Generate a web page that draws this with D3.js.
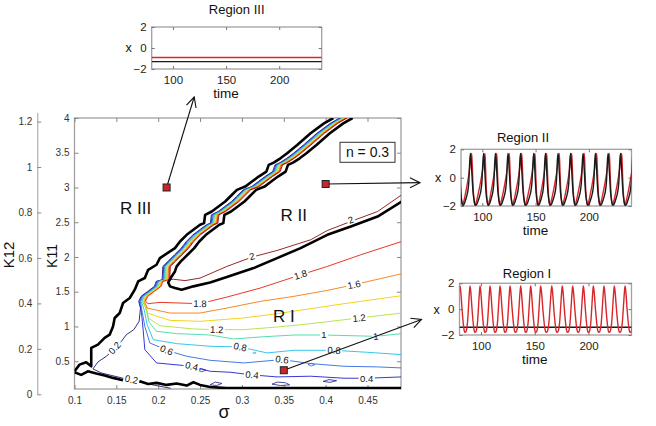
<!DOCTYPE html>
<html><head><meta charset="utf-8">
<script src="https://cdn.jsdelivr.net/npm/d3@7"></script>
<style>
body{margin:0;background:#fff}
svg{display:block}
text{font-family:"Liberation Sans",Arial,Helvetica,sans-serif}
</style>
</head><body>
<svg id="c" width="656" height="426"></svg>
<script>
// ---------------- DATA ----------------
const sigmaTicks = [0.1, 0.15, 0.2, 0.25, 0.3, 0.35, 0.4, 0.45];
const k11Ticks = [0.5, 1, 1.5, 2, 2.5, 3, 3.5, 4];
const k12Ticks = [0, 0.2, 0.4, 0.6, 0.8, 1, 1.2];
const timeTicks = [100, 150, 200];
const xTicks = [-2, 0, 2];

const levels = [0.2, 0.4, 0.6, 0.8, 1.0, 1.2, 1.4, 1.6, 1.8, 2.0];
// sigma offset of each level inside the narrow diagonal band
const bandShift = [-0.0045, -0.0035, -0.0025, -0.0015, -0.0005, 0.0005, 0.0015, 0.0025, 0.0035, 0.0045];
// K11 where each level leaves the band
const bandLeave = [1.36, 1.36, 1.36, 1.36, 1.36, 1.36, 1.36, 1.36, 1.36, 1.66];

// centre of the diagonal band (sigma, K11), top -> bottom
const bandCenter = [[0.4212,4.0],[0.410,3.923],[0.394,3.780],[0.378,3.612],[0.366,3.492],[0.358,3.420],
 [0.350,3.358],[0.344,3.325],[0.3412,3.229],[0.332,3.157],[0.324,3.085],[0.316,3.013],[0.306,2.966],
 [0.298,2.870],[0.292,2.798],[0.284,2.726],[0.276,2.654],[0.268,2.606],[0.2668,2.487],[0.262,2.463],
 [0.254,2.391],[0.246,2.319],[0.238,2.223],[0.232,2.127],[0.224,2.032],[0.216,1.936],[0.210,1.864],
 [0.2092,1.672],[0.202,1.648],[0.200,1.577],[0.192,1.505],[0.184,1.433],[0.1812,1.361]];

const tail02 = [[0.1788,1.265],[0.1772,1.074],[0.1708,0.954],[0.162,0.882],[0.156,0.786],[0.148,0.676],[0.138,0.571],[0.128,0.489],[0.122,0.389],[0.132,0.331],[0.148,0.284],[0.168,0.226],[0.186,0.178],[0.202,0.140],[0.215,0.11]];
const tail04 = [[0.180,1.2],[0.182,0.954],[0.184,0.667],[0.198,0.475],[0.240,0.427],[0.262,0.355],[0.286,0.341],[0.312,0.303],[0.342,0.274],[0.382,0.284],[0.422,0.255],[0.4492,0.255],[0.4908,0.274]];
const tail06 = [[0.181,1.2],[0.184,1.002],[0.190,0.762],[0.214,0.643],[0.234,0.571],[0.262,0.513],[0.302,0.475],[0.348,0.523],[0.382,0.466],[0.422,0.427],[0.462,0.418],[0.4908,0.403]];
const tail08 = [[0.183,1.25],[0.1868,1.026],[0.194,0.810],[0.222,0.753],[0.262,0.715],[0.298,0.705],[0.330,0.619],[0.362,0.657],[0.410,0.657],[0.450,0.628],[0.4908,0.595]];
const tail10 = [[0.185,1.28],[0.1892,1.059],[0.198,0.930],[0.222,0.897],[0.262,0.877],[0.290,0.820],[0.322,0.849],[0.362,0.877],[0.398,0.877],[0.460,0.858],[0.4908,0.897]];
const tail12 = [[0.186,1.3],[0.188,1.122],[0.202,1.011],[0.242,0.964],[0.270,0.954],[0.302,0.954],[0.342,0.992],[0.382,1.040],[0.440,1.122],[0.4908,1.193]];
const tail14 = [[0.1868,1.193],[0.214,1.088],[0.250,1.074],[0.302,1.122],[0.342,1.184],[0.382,1.256],[0.422,1.328],[0.4908,1.443]];
const tail16 = [[0.1868,1.265],[0.214,1.193],[0.250,1.193],[0.282,1.265],[0.322,1.361],[0.362,1.433],[0.402,1.519],[0.434,1.601],[0.4908,1.759]];
const tail18 = [[0.188,1.328],[0.202,1.347],[0.226,1.337],[0.250,1.328],[0.282,1.423],[0.322,1.553],[0.362,1.711],[0.402,1.864],[0.442,2.032],[0.4908,2.223]];
const tail20 = [[0.218,1.68],[0.232,1.66],[0.250,1.696],[0.282,1.864],[0.312,1.998],[0.342,2.094],[0.382,2.247],[0.402,2.381],[0.430,2.511],[0.462,2.654],[0.4908,2.894]];

// small closed contour islands [level, points]
const islandLevels = [0.4, 0.6, 0.2, 0.8, 0.2, 0.2];
const islandPts = [
 [[0.247,0.37],[0.252,0.39],[0.257,0.37],[0.252,0.35],[0.247,0.37]],
 [[0.379,0.45],[0.383,0.47],[0.387,0.45],[0.383,0.43],[0.379,0.45]],
 [[0.262,0.16],[0.268,0.20],[0.276,0.18],[0.270,0.15],[0.262,0.16]],
 [[0.313,0.62],[0.315,0.63],[0.317,0.62],[0.315,0.61],[0.313,0.62]],
 [[0.336,0.17],[0.342,0.20],[0.352,0.19],[0.357,0.16],[0.346,0.15],[0.336,0.17]],
 [[0.397,0.21],[0.404,0.235],[0.413,0.22],[0.405,0.195],[0.397,0.21]]
];

// thick black boundaries
const outerLow = [[0.100,0.355],[0.106,0.451],[0.114,0.484],[0.120,0.427],[0.120,0.691],[0.128,0.738],[0.136,0.835],[0.142,0.882],[0.146,1.001],[0.148,1.122],[0.154,1.194],[0.158,1.338],[0.166,1.409],[0.172,1.529],[0.176,1.648],[0.184,1.697],[0.188,1.816],[0.198,1.888],[0.202,1.984]];
const outerShift = -0.012;
const innerShift = 0.011;
const innerLow = [[0.222,1.864],[0.220,1.792],[0.216,1.720],[0.212,1.634],[0.214,1.577],[0.220,1.553],[0.228,1.529],[0.242,1.577],[0.262,1.634],[0.282,1.711],[0.314,1.840],[0.342,1.984],[0.370,2.127],[0.402,2.319],[0.430,2.439],[0.462,2.582],[0.4908,2.798]];
const bottomBoundary = [[0.100,0.341],[0.108,0.303],[0.116,0.355],[0.126,0.322],[0.136,0.293],[0.146,0.260],[0.158,0.226],[0.168,0.197],[0.178,0.212],[0.188,0.173],[0.198,0.188],[0.210,0.159],[0.222,0.178],[0.234,0.149],[0.242,0.197],[0.250,0.159],[0.262,0.128],[0.282,0.112],[0.4908,0.112]];

// contour labels: level, sigma, K11
const labelLevel = [2.0, 2.0, 1.8, 1.8, 1.6, 1.2, 1.2, 1.0, 1.0, 0.8, 0.8, 0.6, 0.6, 0.4, 0.4, 0.4, 0.2, 0.2];
const labelSigma = [0.312, 0.430, 0.250, 0.370, 0.434, 0.270, 0.440, 0.398, 0.460, 0.298, 0.410, 0.210, 0.348, 0.240, 0.312, 0.449, 0.148, 0.168];
const labelK11  = [2.008, 2.534, 1.328, 1.744, 1.601, 0.954, 1.122, 0.877, 0.858, 0.705, 0.657, 0.66, 0.523, 0.427, 0.303, 0.255, 0.691, 0.236];

// sample points (sigma, K11)
const sampleNames = ["III", "II", "I"];
const sampleSigma = [0.21, 0.40, 0.35];
const sampleK11 = [3.0, 3.05, 0.37];

// region labels
const regionText = ["R III", "R II", "R I"];
const regionSigma = [0.173, 0.362, 0.350];
const regionK11 = [2.70, 2.61, 1.15];

// time-series insets
const timeDomain = [80, 240];
const regionIIIRed = [[80,-0.9],[240,-0.9]];
const regionIIIBlack = [[80,-1.3],[240,-1.3]];

const peaksIIRed = [78.5, 90.0, 102.5, 113.5, 125.3, 137.0, 149.4, 160.4, 172.2, 183.9, 195.7, 207.3, 219.2, 230.8, 242.5];
const peaksIIBlack = [77.3, 88.8, 101.2, 112.3, 124.1, 135.8, 148.2, 159.2, 171.0, 182.7, 194.5, 206.1, 218.0, 229.6, 241.3];
const shapeIIPhase = [0, 0.05, 0.12, 0.2, 0.3, 0.4, 0.5, 0.6, 0.7, 0.8, 0.88, 0.94, 1];
const shapeIIBlack = [1.7, 1.3, 0.2, -1.0, -1.7, -1.95, -1.85, -1.6, -1.3, -0.9, -0.2, 1.0, 1.7];
const shapeIIRedPhase = [0, 0.04, 0.1, 0.18, 0.25, 0.35, 0.5, 0.65, 0.8, 0.92, 1];
const shapeIIRed = [1.7, 1.0, -0.5, -1.6, -1.95, -1.7, -1.1, -0.4, 0.4, 1.2, 1.7];

const peaksIRed = [80.5, 89.8, 99.1, 108.4, 117.7, 127.0, 136.9, 146.2, 155.5, 165.8, 175.6, 185.3, 195.2, 204.5, 214.4, 224.0, 234.0, 243.5];
const shapeIPhase = [0, 0.08, 0.2, 0.35, 0.45, 0.55, 0.65, 0.75, 0.85, 0.93, 1];
const shapeIRed = [1.8, 1.3, 0.0, -1.3, -1.75, -1.8, -1.6, -1.0, 0.2, 1.2, 1.8];
const regionIBlack = [[80,-1.4],[240,-1.4]];

// ---------------- STYLES ----------------
const levelColors = ["#1a1a80","#2020d0","#2f6ae0","#20c0e8","#40d8a8","#b0e040","#f0d000","#f57a10","#e82010","#8a1010"];
const RED = "#d9262b", BLACK = "#1a1a1a", FRAME = "#a0a0a0";

// ---------------- DRAW ----------------
const svg = d3.select("#c");
const x = d3.scaleLinear().domain([0.1, 0.49]).range([74.5, 401]);
const y = d3.scaleLinear().domain([0.1, 4]).range([389, 118]);
const line = d3.line().x(d => x(d[0])).y(d => y(d[1]));
const fmt = d3.format("");

const defs = svg.append("defs");
defs.append("clipPath").attr("id","mainclip")
  .append("rect").attr("x", x.range()[0]).attr("y", y.range()[1])
  .attr("width", x.range()[1]-x.range()[0]).attr("height", y.range()[0]-y.range()[1]);
defs.append("marker").attr("id","arr").attr("viewBox","0 0 12 12").attr("refX",11).attr("refY",6)
  .attr("markerWidth",12).attr("markerHeight",12).attr("markerUnits","userSpaceOnUse").attr("orient","auto")
  .append("path").attr("d","M1,1 L11,6 L1,11").attr("fill","none").attr("stroke","#111").attr("stroke-width",1.1);

// K12 axis (separate scale on the far left)
const yk12 = d3.scaleLinear().domain([0, 1.24]).range([394.3, 112.5]);
const gk12 = svg.append("g").attr("transform","translate(37.3,0)")
  .call(d3.axisLeft(yk12).tickValues(k12Ticks).tickSize(-4).tickSizeOuter(0).tickPadding(5).tickFormat(fmt));
gk12.select(".domain").attr("stroke", FRAME);
gk12.selectAll(".tick line").attr("stroke", "#888");
gk12.selectAll("text").attr("font-size", 10).attr("fill", "#333");

svg.append("text").attr("transform","translate(14,255) rotate(-90)").attr("text-anchor","middle")
  .attr("font-size",15).attr("fill","#111").text("K12");
svg.append("text").attr("transform","translate(57,256) rotate(-90)").attr("text-anchor","middle")
  .attr("font-size",14).attr("fill","#111").text("K11");

// main plot frame & axes
svg.append("rect").attr("x", x.range()[0]).attr("y", y.range()[1])
  .attr("width", x.range()[1]-x.range()[0]).attr("height", y.range()[0]-y.range()[1])
  .attr("fill","#fff").attr("stroke", FRAME).attr("stroke-width",1.3);

function styleAxis(g){ g.select(".domain").remove(); g.selectAll(".tick line").attr("stroke","#888");
  g.selectAll("text").attr("font-size",10).attr("fill","#333"); }
svg.append("g").attr("transform",`translate(0,${y.range()[0]})`)
  .call(d3.axisBottom(x).tickValues(sigmaTicks).tickSize(-4).tickPadding(8).tickFormat(fmt)).call(styleAxis);
svg.append("g").attr("transform",`translate(0,${y.range()[1]})`)
  .call(d3.axisTop(x).tickValues(sigmaTicks).tickSize(-4).tickFormat("")).call(styleAxis);
svg.append("g").attr("transform",`translate(${x.range()[0]},0)`)
  .call(d3.axisLeft(y).tickValues(k11Ticks).tickSize(-4).tickPadding(5).tickFormat(fmt)).call(styleAxis);
svg.append("g").attr("transform",`translate(${x.range()[1]},0)`)
  .call(d3.axisRight(y).tickValues(k11Ticks).tickSize(-4).tickFormat("")).call(styleAxis);

svg.append("text").attr("x",224).attr("y",418).attr("text-anchor","middle")
  .attr("font-family","'DejaVu Serif','Liberation Serif',serif").attr("font-size",18).attr("fill","#111").text("σ");

// contours
const plot = svg.append("g").attr("clip-path","url(#mainclip)");
const tails = [tail02, tail04, tail06, tail08, tail10, tail12, tail14, tail16, tail18, tail20];
const levelLines = levels.map((lv, i) => {
  const band = bandCenter.filter(p => p[1] >= bandLeave[i]).map(p => [p[0] + bandShift[i], p[1]]);
  return band.concat(tails[i]);
});
levelLines.forEach((pts, i) => {
  plot.append("path").attr("d", line(pts)).attr("fill","none")
    .attr("stroke", levelColors[i]).attr("stroke-width", 0.9).attr("stroke-linejoin","round");
});
islandPts.forEach((pts, i) => {
  plot.append("path").attr("d", line(pts)).attr("fill","none")
    .attr("stroke", levelColors[levels.indexOf(islandLevels[i])]).attr("stroke-width", 0.8);
});

const outerBoundary = outerLow.concat(bandCenter.filter(p => p[1] >= 2.05).reverse().map(p => [p[0] + outerShift, p[1]]));
const innerBoundary = bandCenter.filter(p => p[1] >= 1.9).map(p => [p[0] + innerShift, p[1]]).concat(innerLow);
[outerBoundary, innerBoundary, bottomBoundary].forEach(pts => {
  plot.append("path").attr("d", line(pts)).attr("fill","none").attr("stroke","#000")
    .attr("stroke-width", 2.6).attr("stroke-linejoin","round");
});

// contour labels
labelLevel.forEach((lv, i) => {
  const pts = levelLines[levels.indexOf(lv)].map(p => [x(p[0]), y(p[1])]);
  const px = x(labelSigma[i]), py = y(labelK11[i]);
  let best = 0, bd = Infinity;
  for (let j = 0; j < pts.length - 1; j++) {
    const mx = (pts[j][0] + pts[j+1][0]) / 2, my = (pts[j][1] + pts[j+1][1]) / 2;
    const d = (mx-px)**2 + (my-py)**2;
    if (d < bd) { bd = d; best = j; }
  }
  let ang = Math.atan2(pts[best+1][1]-pts[best][1], pts[best+1][0]-pts[best][0]) * 180 / Math.PI;
  if (ang > 90) ang -= 180; if (ang < -90) ang += 180;
  const g = plot.append("g").attr("transform", `translate(${px},${py}) rotate(${ang})`);
  const t = g.append("text").attr("text-anchor","middle").attr("dy","0.35em")
    .attr("font-size", 9.5).attr("fill","#111").text(fmt(lv));
  const w = t.node().getComputedTextLength();
  g.insert("rect","text").attr("x", -w/2 - 1.5).attr("y", -4.5).attr("width", w + 3).attr("height", 9).attr("fill","#fff");
});

// region labels
regionText.forEach((s, i) => {
  svg.append("text").attr("x", x(regionSigma[i])).attr("y", y(regionK11[i])).attr("dy","0.35em")
    .attr("text-anchor","middle").attr("font-size",17).attr("fill","#111").text(s);
});

// n = 0.3 box
svg.append("rect").attr("x",340).attr("y",142.3).attr("width",55).attr("height",20)
  .attr("fill","#fff").attr("stroke","#333").attr("stroke-width",1);
svg.append("text").attr("x",367.5).attr("y",152.3).attr("dy","0.35em").attr("text-anchor","middle")
  .attr("font-size",14).attr("fill","#111").text("n = 0.3");

// insets
const insets = [
  {title:"Region III", left:151.7, right:321.7, top:27, bottom:69, tx:236.7, ty:9.5,
   series:[{pts:regionIIIRed, c:RED},{pts:regionIIIBlack, c:BLACK}]},
  {title:"Region II", left:461, right:631.5, top:149.3, bottom:206, tx:523, ty:137,
   series:[]},
  {title:"Region I", left:459.5, right:631.5, top:283.3, bottom:335, tx:527, ty:273.5,
   series:[]}
];
function periodic(peaks, phases, vals){
  const pts = [];
  for (let i = 0; i < peaks.length - 1; i++) {
    const a = peaks[i], b = peaks[i+1];
    phases.forEach((p, j) => { if (j === phases.length - 1 && i < peaks.length - 2) return;
      pts.push([a + (b - a) * p, vals[j]]); });
  }
  return pts;
}
insets[1].series = [
  {pts: periodic(peaksIIRed, shapeIIRedPhase, shapeIIRed), c: RED},
  {pts: periodic(peaksIIBlack, shapeIIPhase, shapeIIBlack), c: BLACK}
];
insets[2].series = [
  {pts: regionIBlack, c: BLACK},
  {pts: periodic(peaksIRed, shapeIPhase, shapeIRed), c: RED}
];

insets.forEach((cfg, k) => {
  const tx = d3.scaleLinear().domain(timeDomain).range([cfg.left, cfg.right]);
  const ty = d3.scaleLinear().domain([-2, 2]).range([cfg.bottom, cfg.top]);
  const g = svg.append("g");
  const cid = "ic" + k;
  defs.append("clipPath").attr("id", cid).append("rect").attr("x", cfg.left).attr("y", cfg.top)
    .attr("width", cfg.right - cfg.left).attr("height", cfg.bottom - cfg.top);
  g.append("rect").attr("x", cfg.left).attr("y", cfg.top).attr("width", cfg.right - cfg.left)
    .attr("height", cfg.bottom - cfg.top).attr("fill","#fff").attr("stroke", FRAME).attr("stroke-width",1.3);
  const sty = a => { a.select(".domain").remove(); a.selectAll(".tick line").attr("stroke","#777");
    a.selectAll("text").attr("font-size",11.5).attr("fill","#222"); };
  g.append("g").attr("transform",`translate(0,${cfg.bottom})`)
    .call(d3.axisBottom(tx).tickValues(timeTicks).tickSize(-3).tickPadding(7).tickFormat(fmt)).call(sty);
  g.append("g").attr("transform",`translate(0,${cfg.top})`)
    .call(d3.axisTop(tx).tickValues(timeTicks).tickSize(-3).tickFormat("")).call(sty);
  g.append("g").attr("transform",`translate(${cfg.left},0)`)
    .call(d3.axisLeft(ty).tickValues(xTicks).tickSize(-3).tickPadding(5).tickFormat(fmt)).call(sty);
  g.append("g").attr("transform",`translate(${cfg.right},0)`)
    .call(d3.axisRight(ty).tickValues(xTicks).tickSize(-3).tickFormat("")).call(sty);
  const ln = d3.line().x(d => tx(d[0])).y(d => ty(d[1])).curve(d3.curveMonotoneX);
  const lg = g.append("g").attr("clip-path", `url(#${cid})`);
  cfg.series.forEach(s => lg.append("path").attr("d", ln(s.pts)).attr("fill","none")
    .attr("stroke", s.c).attr("stroke-width", 1.4));
  g.append("text").attr("x", cfg.tx).attr("y", cfg.ty).attr("dy","0.35em").attr("text-anchor","middle")
    .attr("font-size",13).attr("fill","#111").text(cfg.title);
  g.append("text").attr("x", cfg.left - 23).attr("y", ty(0)).attr("dy","0.35em").attr("text-anchor","middle")
    .attr("font-size",12.5).attr("fill","#111").text("x");
  g.append("text").attr("x", tx(150)).attr("y", cfg.bottom + 24).attr("dy","0.35em").attr("text-anchor","middle")
    .attr("font-size",13.5).attr("fill","#111").text("time");
  cfg.tScale = tx; cfg.yScale = ty;
});

// arrows from sample points to insets
const arrowEnds = [
  [insets[0].tScale(120), insets[0].bottom + 28],
  [insets[1].left - 41, insets[1].yScale(0) + 5],
  [insets[2].left - 38, insets[2].yScale(-0.8)]
];
sampleSigma.forEach((s, i) => {
  svg.append("line").attr("x1", x(s)).attr("y1", y(sampleK11[i]))
    .attr("x2", arrowEnds[i][0]).attr("y2", arrowEnds[i][1])
    .attr("stroke","#111").attr("stroke-width",1.1).attr("marker-end","url(#arr)");
});
sampleSigma.forEach((s, i) => {
  svg.append("rect").attr("x", x(s) - 3.5).attr("y", y(sampleK11[i]) - 3.5).attr("width",7).attr("height",7)
    .attr("fill","#c8262a").attr("stroke","#222").attr("stroke-width",1);
});
</script>
</body></html>
